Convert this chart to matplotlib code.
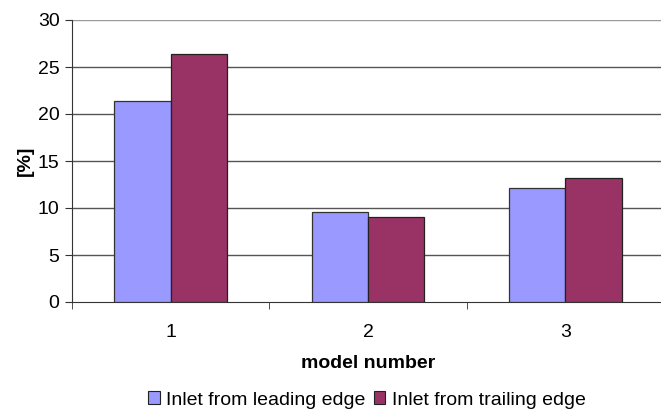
import matplotlib
matplotlib.use("Agg")
import matplotlib.pyplot as plt
import numpy as np

plt.rcParams['font.family'] = ['Liberation Sans', 'DejaVu Sans']

categories = ["1", "2", "3"]
leading = [21.4, 9.6, 12.1]
trailing = [26.35, 9.07, 13.15]
series_names = ["Inlet from leading edge", "Inlet from trailing edge"]
yticks = [0, 5, 10, 15, 20, 25, 30]

FS = 14
fig = plt.figure(figsize=(6.61, 4.13), dpi=100)
W, H = 661, 413
ax = fig.add_axes([72 / W, (H - 302) / H, (664 - 72) / W, (302 - 20) / H])

x = np.arange(len(categories))
bw = 0.286
ax.bar(x - bw / 2, leading, bw, color="#9999FF", edgecolor="#333333", linewidth=0.9,
       label=series_names[0], zorder=3)
ax.bar(x + bw / 2, trailing, bw, color="#993366", edgecolor="#222222", linewidth=0.9,
       label=series_names[1], zorder=3)

ax.set_xlim(-0.5, 2.5)
ax.set_ylim(0, 30)
ax.set_yticks(yticks)
ax.set_yticklabels([str(v) for v in yticks], fontsize=FS)
for v in yticks[1:]:
    ax.axhline(v, color="#555555" if v < 30 else "#999999", linewidth=1.0, zorder=1)

ax.set_xticks(x)
ax.set_xticklabels(categories, fontsize=FS)
ax.set_xticks(np.arange(-0.5, 3.0, 1.0), minor=True)
ax.tick_params(axis='x', which='major', length=0, pad=16)
ax.tick_params(axis='x', which='minor', length=5, direction='out', color="#333333")
ax.tick_params(axis='y', length=5, direction='out', color="#333333", pad=4)

for s in ['top', 'right']:
    ax.spines[s].set_visible(False)
ax.spines['left'].set_color("#333333")
ax.spines['bottom'].set_color("#333333")

ax.set_ylabel("[%]", fontsize=FS, fontweight='bold', labelpad=3)
ax.set_xlabel("model number", fontsize=FS, fontweight='bold', labelpad=10)

leg = fig.legend(loc='center', bbox_to_anchor=(367 / W, (H - 400) / H), ncol=2,
                 fontsize=FS, frameon=False, handlelength=0.6, handleheight=0.6,
                 handletextpad=0.35, columnspacing=0.4, borderpad=0)
for h in leg.legend_handles:
    h.set_edgecolor("#222222")
    h.set_linewidth(0.8)

fig.savefig("out.png", dpi=100)
